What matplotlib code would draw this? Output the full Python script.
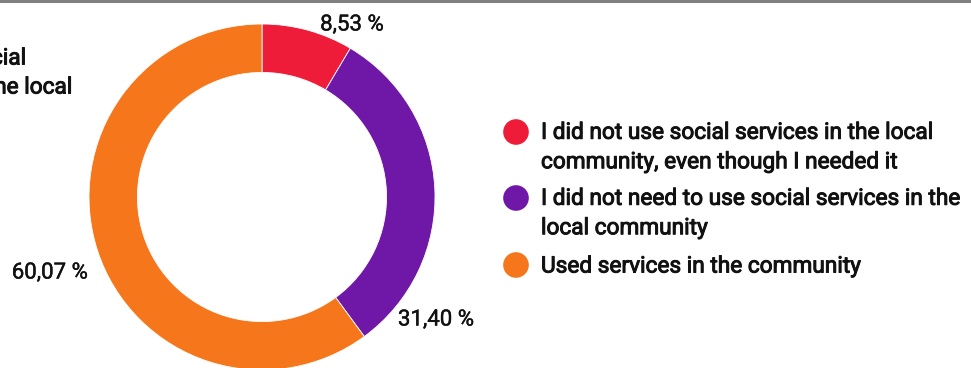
import matplotlib.pyplot as plt
import matplotlib.patheffects as pe
from matplotlib.lines import Line2D

plt.rcParams['font.family'] = ['Roboto', 'DejaVu Sans']

# shares of respondents, clockwise from 12 o'clock
categories = [
    "I did not use social services in the local\ncommunity, even though I needed it",
    "I did not need to use social services in the\nlocal community",
    "Used services in the community",
]
shares = [8.53, 31.40, 60.07]
colors = ["#ee1c39", "#6f17a6", "#f5761b"]

W, H = 971, 368
fig = plt.figure(figsize=(W / 100, H / 100), dpi=100)
ax = fig.add_axes([0, 0, 1, 1])

# donut
cx, cy, r = 262, H - 197, 173
ax.pie(shares, colors=colors, startangle=90, counterclock=False,
       center=(cx, cy), radius=r, frame=True,
       wedgeprops=dict(width=r * 0.28, edgecolor='white', linewidth=0.6))
ax.set_xlim(0, W)
ax.set_ylim(0, H)
ax.axis('off')

# fake a medium weight: regular glyphs with a thin outline
medium = [pe.withStroke(linewidth=0.7, foreground='#111111')]

# value labels
label_pos = [(352, H - 25), (436, H - 320), (50, H - 273)]
for v, (x, y) in zip(shares, label_pos):
    ax.text(x, y, f"{v:.2f} %".replace('.', ','), ha='center', va='center',
            fontsize=16, color='#111111',
            path_effects=[pe.withStroke(linewidth=0.3, foreground='#111111')])

# title text running off the left edge
ax.text(26, H - 58, "Use of social", ha='right', va='center',
        fontsize=16.3, color='#111111', path_effects=medium)
ax.text(72, H - 87, "services in the local", ha='right', va='center',
        fontsize=16.3, color='#111111', path_effects=medium)

# grey rule at the top
ax.add_line(Line2D([0, W], [H - 1, H - 1], color='#808080', lw=2.2))

# legend
marker_y = [H - 132, H - 198, H - 265]
text_y = [H - 147, H - 213, H - 266]
for lab, c, my, ty in zip(categories, colors, marker_y, text_y):
    ax.scatter([516], [my], s=340, color=c, edgecolors='none')
    ax.text(541, ty, lab, ha='left', va='center', fontsize=16.3,
            color='#111111', linespacing=1.36, path_effects=medium)

fig.savefig("out.png", dpi=100)
